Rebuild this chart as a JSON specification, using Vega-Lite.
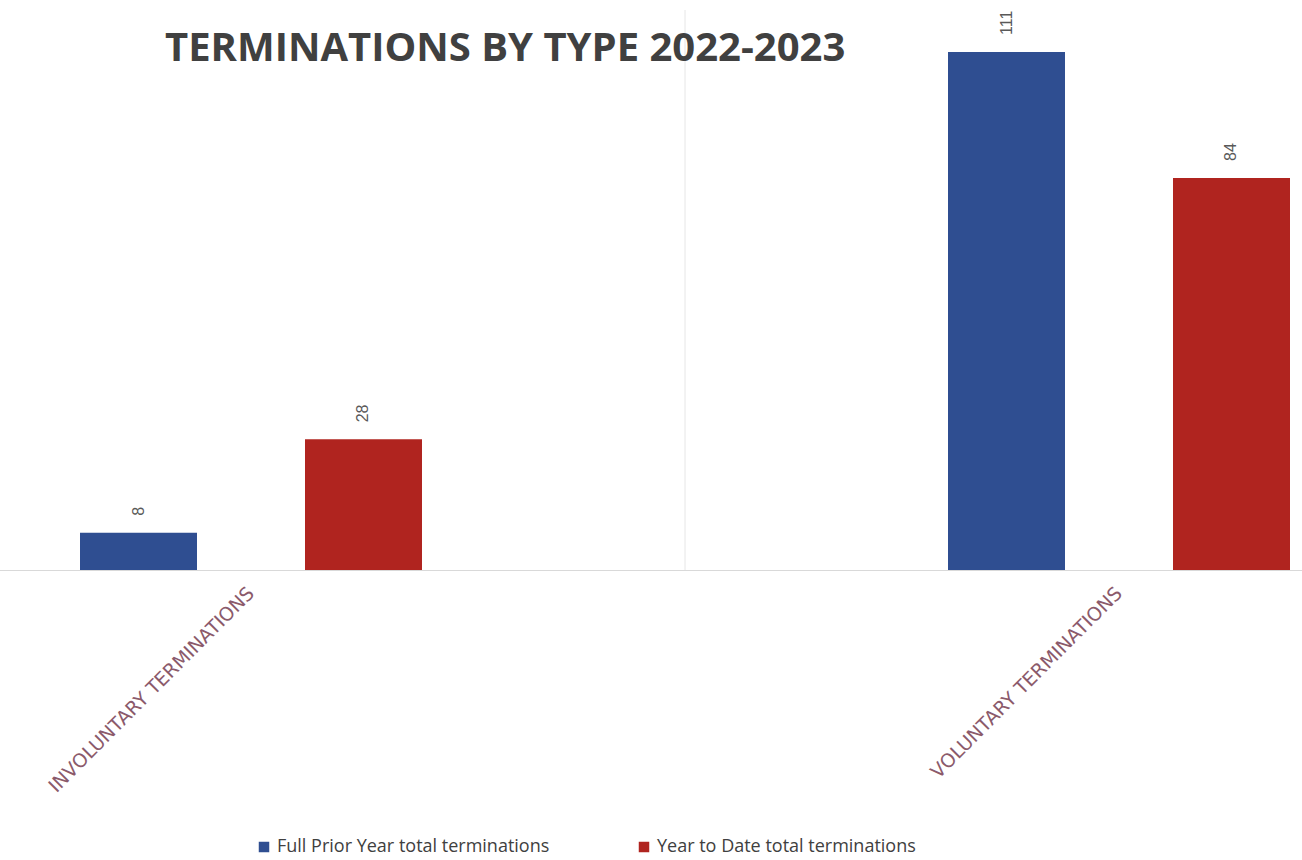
{
  "$schema": "https://vega.github.io/schema/vega-lite/v6.json",
  "width": 1302,
  "height": 560,
  "autosize": {"type": "none"},
  "padding": {"left": 0, "top": 10, "right": 0, "bottom": 290},
  "background": "white",
  "title": {
    "text": "TERMINATIONS BY TYPE 2022-2023",
    "anchor": "start",
    "font": "Open Sans",
    "fontSize": 40,
    "fontWeight": "bold",
    "color": "#404040",
    "offset": 0,
    "dx": 165,
    "dy": 59
  },
  "data": {
    "values": [
      {"type": "INVOLUNTARY TERMINATIONS", "series": "Full Prior Year total terminations", "value": 8},
      {"type": "INVOLUNTARY TERMINATIONS", "series": "Year to Date total terminations", "value": 28},
      {"type": "VOLUNTARY TERMINATIONS", "series": "Full Prior Year total terminations", "value": 111},
      {"type": "VOLUNTARY TERMINATIONS", "series": "Year to Date total terminations", "value": 84}
    ]
  },
  "layer": [
    {
      "data": {"values": [{"type": "VOLUNTARY TERMINATIONS"}]},
      "mark": {"type": "rule", "color": "#e6e6e6", "strokeWidth": 1},
      "encoding": {
        "x": {"field": "type", "type": "nominal", "bandPosition": -0.769, "sort": ["INVOLUNTARY TERMINATIONS", "VOLUNTARY TERMINATIONS"]}
      }
    },
    {
      "mark": {"type": "bar"},
      "encoding": {
        "x": {
          "field": "type",
          "type": "nominal",
          "sort": ["INVOLUNTARY TERMINATIONS", "VOLUNTARY TERMINATIONS"],
          "scale": {"range": [-183, 1553], "paddingInner": 0.606, "paddingOuter": 0.303},
          "axis": {
            "title": null,
            "ticks": false,
            "grid": false,
            "labelAngle": -45,
            "labelFont": "DejaVu Sans",
            "labelFontSize": 19,
            "labelColor": "#8B5A6B",
            "labelPadding": 20,
            "labelLimit": 0,
            "domainColor": "#d9d9d9",
            "domainWidth": 1
          }
        },
        "xOffset": {"field": "series", "type": "nominal", "sort": ["Full Prior Year total terminations", "Year to Date total terminations"], "scale": {"paddingInner": 0.48, "paddingOuter": 0}},
        "y": {"field": "value", "type": "quantitative", "scale": {"domain": [0, 120]}, "axis": null},
        "color": {
          "field": "series",
          "type": "nominal",
          "sort": ["Full Prior Year total terminations", "Year to Date total terminations"],
          "scale": {"range": ["#2F4E91", "#B0241F"]},
          "legend": {
            "orient": "none",
            "legendX": 255,
            "legendY": 828,
            "direction": "horizontal",
            "title": null,
            "symbolType": "square",
            "symbolSize": 110,
            "symbolStrokeWidth": 0,
            "labelFontSize": 18,
            "labelFont": "Open Sans",
            "labelColor": "#404040",
            "labelLimit": 0,
            "columnPadding": 85
          }
        }
      }
    },
    {
      "mark": {"type": "text", "angle": 270, "align": "left", "baseline": "middle", "dx": 17, "fontSize": 16, "font": "Liberation Sans", "color": "#595959"},
      "encoding": {
        "x": {"field": "type", "type": "nominal", "sort": ["INVOLUNTARY TERMINATIONS", "VOLUNTARY TERMINATIONS"]},
        "xOffset": {"field": "series", "type": "nominal", "sort": ["Full Prior Year total terminations", "Year to Date total terminations"]},
        "y": {"field": "value", "type": "quantitative"},
        "text": {"field": "value", "type": "quantitative"}
      }
    }
  ],
  "config": {
    "view": {"stroke": null}
  }
}
